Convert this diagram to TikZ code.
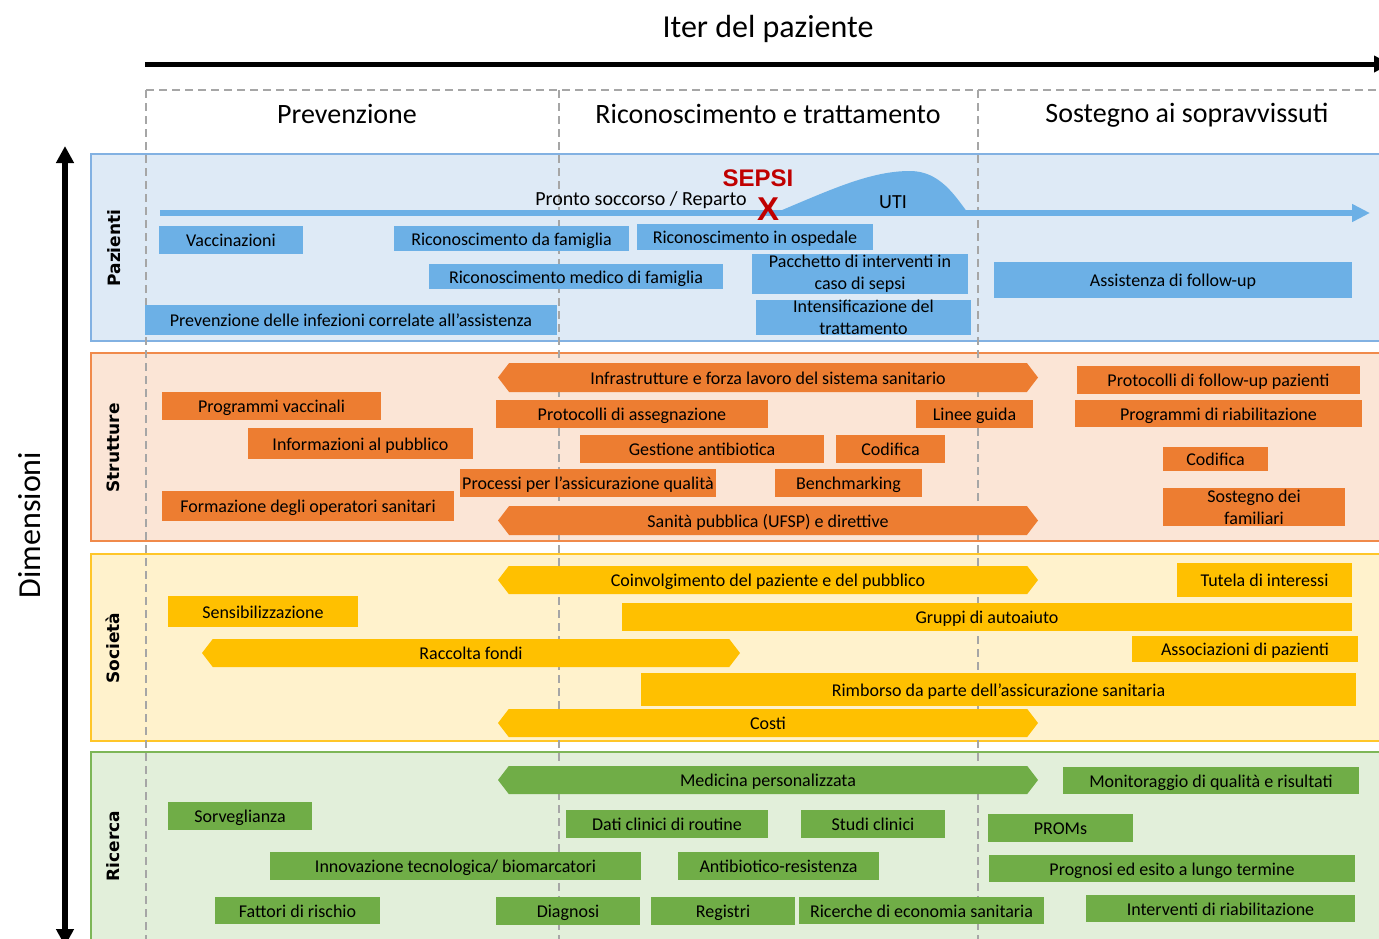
\documentclass[tikz,border=0pt]{standalone}
\usepackage{fontspec}
\setmainfont{Carlito}
\newfontfamily\dimfont{DejaVu Sans}
\newfontfamily\alertfont{Liberation Sans}
\usetikzlibrary{arrows.meta,shapes.symbols}

\definecolor{pazbox}{HTML}{6CB0E6}
\definecolor{pazfill}{HTML}{DEEAF6}
\definecolor{pazline}{HTML}{82B1E2}
\definecolor{strbox}{HTML}{ED7D31}
\definecolor{strfill}{HTML}{FBE5D6}
\definecolor{strline}{HTML}{F08A4B}
\definecolor{socbox}{HTML}{FFC000}
\definecolor{socfill}{HTML}{FFF2CC}
\definecolor{socline}{HTML}{FFC629}
\definecolor{ricbox}{HTML}{70AD47}
\definecolor{ricfill}{HTML}{E2EFDA}
\definecolor{ricline}{HTML}{7DB657}
\definecolor{phasegray}{HTML}{A6A6A6}
\definecolor{sepsired}{HTML}{C00000}

\begin{document}
\begin{tikzpicture}[
    x = 1pt, y = -1pt, % pixel grid of the picture
    box/.style = {inner sep = 0pt, align = center, text = black,
                  text height = 15.5pt, text depth = 2.4pt,
                  font = \fontsize{18}{22}\selectfont},
    twoline/.style = {text height = , text depth = },
    band/.style = {draw, line width = 2pt, minimum width = 1299pt},
    dimlab/.style = {rotate = 90, font = \dimfont\bfseries\fontsize{17}{20}\selectfont},
    phase/.style = {phasegray, line width = 1.6pt, dash pattern = on 8pt off 5pt},
    head/.style = {font = \fontsize{28}{32}\selectfont}
    ]

    \tikzset{
    paz/.style = {box, fill = pazbox},
    str/.style = {box, fill = strbox},
    soc/.style = {box, fill = socbox},
    ric/.style = {box, fill = ricbox},
    chev/.style = {shape = signal, signal to = west and east,
                   signal pointer angle = 105}
    }
    \useasboundingbox (0,0) rectangle (1379,938);

    % axes
    \node[font = \fontsize{32}{36}\selectfont] (iter) at (768,29) {Iter del paziente};
    \node[font = \fontsize{32}{36}\selectfont, rotate = 90] (dimens) at (30,525) {Dimensioni};
    \coordinate (iterA) at (145,64);
    \coordinate (iterB) at (1390,64);
    \coordinate (dimA) at (65,146);
    \coordinate (dimB) at (65,946);
    \draw[line width = 5pt, -{Triangle[width=16pt,length=16pt]}] (iterA) -- (iterB);
    \draw[line width = 6pt, {Triangle[width=17pt,length=17pt]}-{Triangle[width=17pt,length=17pt]}] (dimA) -- (dimB);

    % dimension bands
    \node[band, pazline, fill = pazfill, minimum height = 187pt] (bpaz) at (740.5,247.5) {};
    \node[band, strline, fill = strfill, minimum height = 188pt] (bstr) at (740.5,447) {};
    \node[band, socline, fill = socfill, minimum height = 187pt] (bsoc) at (740.5,647.5) {};
    \node[band, ricline, fill = ricfill, minimum height = 198pt] (bric) at (740.5,851) {};
    \node[dimlab] (lpaz) at (114,248) {Pazienti};
    \node[dimlab] (lstr) at (113,448) {Strutture};
    \node[dimlab] (lsoc) at (113,648) {Società};
    \node[dimlab] (lric) at (113,846) {Ricerca};

    % phases
    \draw[phase] (146,90) -- (1390,90);
    \foreach \px in {146,559,978}
        \draw[phase] (\px,90) -- (\px,940);
    \node[head] (hprev) at (347,114) {Prevenzione};
    \node[head] (hric) at (768,114) {Riconoscimento e trattamento};
    \node[head] (hsost) at (1187,115) {Sostegno ai sopravvissuti};

    % patient track
    \coordinate (trackA) at (160,213);
    \coordinate (trackB) at (1370,213);
    \fill[pazbox] (775,213) .. controls (830,190) and (870,171) .. (910,171)
        .. controls (940,171) and (955,196) .. (968,213) -- cycle;
    \draw[pazbox, line width = 6pt, -{Triangle[width=17pt,length=18pt]}] (trackA) -- (trackB);
    \node[font = \fontsize{20}{22}\selectfont] (pronto) at (641,200) {Pronto soccorso / Reparto};
    \node[font = \fontsize{20}{22}\selectfont] (uti) at (893,202) {UTI};
    \node[font = \alertfont\bfseries\fontsize{24}{26}\selectfont, text = sepsired] (sepsi) at (758,178) {SEPSI};
    \node[font = \alertfont\bfseries\fontsize{33}{34}\selectfont, text = sepsired] (xmark) at (768,209) {X};

    % Pazienti
    \node[paz, minimum width = 144pt, minimum height = 28pt] (vacc) at (231,240) {Vaccinazioni};
    \node[paz, minimum width = 235pt, minimum height = 25pt] (ricfam) at (511.5,238.5) {Riconoscimento da famiglia};
    \node[paz, minimum width = 236pt, minimum height = 26pt] (ricosp) at (755,237) {Riconoscimento in ospedale};
    \node[paz, minimum width = 294pt, minimum height = 25pt] (ricmed) at (576,276.5) {Riconoscimento medico di famiglia};
    \node[paz, twoline, minimum width = 216pt, minimum height = 40pt] (pacch) at (860,274) {Pacchetto di interventi in\\caso di sepsi};
    \node[paz, twoline, minimum width = 215pt, minimum height = 33pt] (intens) at (863.5,317.5) {Intensificazione del\\trattamento};
    \node[paz, minimum width = 412pt, minimum height = 30pt] (previnf) at (351,320) {Prevenzione delle infezioni correlate all’assistenza};
    \node[paz, minimum width = 358pt, minimum height = 36pt] (follow) at (1173,280) {Assistenza di follow-up};

    % Strutture
    \node[str, chev, minimum width = 540pt, minimum height = 29pt] (infra) at (768,377.5) {Infrastrutture e forza lavoro del sistema sanitario};
    \node[str, minimum width = 219pt, minimum height = 28pt] (progvacc) at (271.5,406) {Programmi vaccinali};
    \node[str, minimum width = 272pt, minimum height = 28pt] (protass) at (632,414) {Protocolli di assegnazione};
    \node[str, minimum width = 117pt, minimum height = 28pt] (linee) at (974.5,414) {Linee guida};
    \node[str, minimum width = 225pt, minimum height = 31pt] (infopub) at (360.5,443.5) {Informazioni al pubblico};
    \node[str, minimum width = 244pt, minimum height = 28pt] (gestab) at (702,449) {Gestione antibiotica};
    \node[str, minimum width = 109pt, minimum height = 28pt] (codif) at (890.5,449) {Codifica};
    \node[str, minimum width = 256pt, minimum height = 28pt] (processi) at (588,483) {Processi per l’assicurazione qualità};
    \node[str, minimum width = 147pt, minimum height = 28pt] (bench) at (848.5,483) {Benchmarking};
    \node[str, minimum width = 292pt, minimum height = 30pt] (formaz) at (308,506) {Formazione degli operatori sanitari};
    \node[str, chev, minimum width = 540pt, minimum height = 29pt] (sanita) at (768,520.5) {Sanità pubblica (UFSP) e direttive};
    \node[str, minimum width = 283pt, minimum height = 28pt] (protfu) at (1218.5,380) {Protocolli di follow-up pazienti};
    \node[str, minimum width = 287pt, minimum height = 27pt] (progriab) at (1218.5,413.5) {Programmi di riabilitazione};
    \node[str, minimum width = 105pt, minimum height = 24pt] (codifb) at (1215.5,459) {Codifica};
    \node[str, twoline, minimum width = 182pt, minimum height = 38pt] (sostfam) at (1254,507) {Sostegno dei\\familiari};

    % Società
    \node[soc, chev, minimum width = 540pt, minimum height = 28pt] (coinv) at (768,580) {Coinvolgimento del paziente e del pubblico};
    \node[soc, minimum width = 175pt, minimum height = 34pt] (tutela) at (1264.5,580) {Tutela di interessi};
    \node[soc, minimum width = 190pt, minimum height = 31pt] (sensib) at (263,611.5) {Sensibilizzazione};
    \node[soc, minimum width = 730pt, minimum height = 28pt] (gruppi) at (987,617) {Gruppi di autoaiuto};
    \node[soc, chev, minimum width = 538pt, minimum height = 28pt] (raccolta) at (471,653) {Raccolta fondi};
    \node[soc, minimum width = 226pt, minimum height = 26pt] (assoc) at (1245,649) {Associazioni di pazienti};
    \node[soc, minimum width = 715pt, minimum height = 33pt] (rimborso) at (998.5,689.5) {Rimborso da parte dell’assicurazione sanitaria};
    \node[soc, chev, minimum width = 540pt, minimum height = 28pt] (costi) at (768,723) {Costi};

    % Ricerca
    \node[ric, chev, minimum width = 540pt, minimum height = 28pt] (medpers) at (768,780) {Medicina personalizzata};
    \node[ric, minimum width = 296pt, minimum height = 27pt] (monit) at (1211,780.5) {Monitoraggio di qualità e risultati};
    \node[ric, minimum width = 144pt, minimum height = 28pt] (sorv) at (240,816) {Sorveglianza};
    \node[ric, minimum width = 202pt, minimum height = 28pt] (dati) at (667,824) {Dati clinici di routine};
    \node[ric, minimum width = 144pt, minimum height = 28pt] (studi) at (873,824) {Studi clinici};
    \node[ric, minimum width = 145pt, minimum height = 28pt] (proms) at (1060.5,828) {PROMs};
    \node[ric, minimum width = 371pt, minimum height = 28pt] (innov) at (455.5,866) {Innovazione tecnologica/ biomarcatori};
    \node[ric, minimum width = 201pt, minimum height = 28pt] (antires) at (778.5,866) {Antibiotico-resistenza};
    \node[ric, minimum width = 366pt, minimum height = 27pt] (prognosi) at (1172,868.5) {Prognosi ed esito a lungo termine};
    \node[ric, minimum width = 165pt, minimum height = 27pt] (fattori) at (297.5,910.5) {Fattori di rischio};
    \node[ric, minimum width = 144pt, minimum height = 28pt] (diagn) at (568,911) {Diagnosi};
    \node[ric, minimum width = 144pt, minimum height = 28pt] (registri) at (723,911) {Registri};
    \node[ric, minimum width = 245pt, minimum height = 27pt] (ricecon) at (921.5,910.5) {Ricerche di economia sanitaria};
    \node[ric, minimum width = 269pt, minimum height = 27pt] (interv) at (1220.5,908.5) {Interventi di riabilitazione};
\end{tikzpicture}
\end{document}
